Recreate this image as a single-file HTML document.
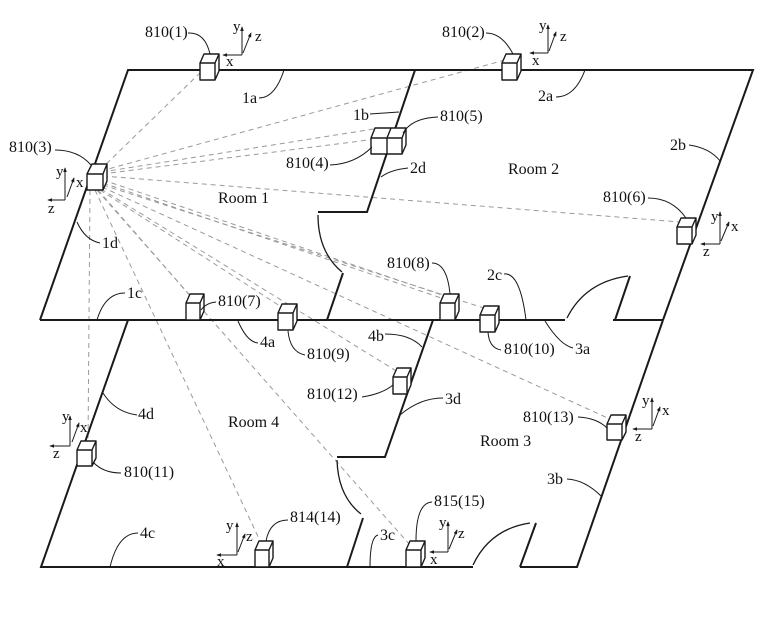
<!DOCTYPE html>
<html>
<head>
<meta charset="utf-8">
<style>
html,body{margin:0;padding:0;background:#fff;}
svg{display:block;}
text{font-family:"Liberation Serif",serif;fill:#111;}
</style>
</head>
<body>
<svg width="773" height="627" viewBox="0 0 773 627" xmlns="http://www.w3.org/2000/svg">
<rect width="773" height="627" fill="#fff"/>

<!-- dashed sight lines from 810(3) -->
<g stroke="#9a9a9a" stroke-width="1" stroke-dasharray="5 4" fill="none">
  <line x1="100" y1="170" x2="205" y2="68"/>
  <line x1="101" y1="171" x2="505" y2="60"/>
  <line x1="102" y1="172" x2="380" y2="128"/>
  <line x1="102" y1="174" x2="376" y2="139"/>
  <line x1="103" y1="176" x2="680" y2="222"/>
  <line x1="103" y1="180" x2="445" y2="296"/>
  <line x1="103" y1="183" x2="447" y2="300"/>
  <line x1="103" y1="185" x2="490" y2="310"/>
  <line x1="102" y1="187" x2="612" y2="420"/>
  <line x1="101" y1="189" x2="398" y2="372"/>
  <line x1="100" y1="190" x2="283" y2="308"/>
  <line x1="98" y1="190" x2="192" y2="298"/>
  <line x1="97" y1="190" x2="410" y2="545"/>
  <line x1="95" y1="190" x2="262" y2="545"/>
  <line x1="90" y1="190" x2="88" y2="445"/>
</g>

<!-- walls -->
<g stroke="#1a1a1a" stroke-width="2" fill="none" stroke-linejoin="miter">
  <path d="M40,320 L128,70 L753,70 L663,320"/>
  <path d="M40,320 L565,320"/>
  <path d="M613,320 L663,320"/>
  <path d="M128,320 L41,567 L473,567"/>
  <path d="M520,567 L577,567 L663,320"/>
  <!-- wall room1/room2 -->
  <path d="M415,70 L367,212 L318,212"/>
  <path d="M343,273 L327,320"/>
  <!-- room2 door -->
  <path d="M630,276 L615,320"/>
  <!-- wall room3/room4 -->
  <path d="M433,320 L385,457 L337,457"/>
  <path d="M363,518 L347,567"/>
  <!-- room3 door -->
  <path d="M536,523 L520,567"/>
</g>
<!-- door arcs -->
<g stroke="#1a1a1a" stroke-width="1.3" fill="none">
  <path d="M318,215 Q318,252 342,272"/>
  <path d="M567,318 Q585,282 628,276"/>
  <path d="M337,460 Q338,496 361,514"/>
  <path d="M473,565 Q490,529 530,523"/>
</g>

<!-- cubes -->
<g stroke="#1a1a1a" stroke-width="1.4" fill="#fff" stroke-linejoin="round">
  <!-- 810(1) -->
  <path d="M200,63 L204,54 L219,54 L215,63 Z M200,63 L215,63 L215,80 L200,80 Z M215,63 L219,54 L219,71 L215,80 Z"/>
  <!-- 810(2) -->
  <path d="M502,63 L506,54 L521,54 L517,63 Z M502,63 L517,63 L517,80 L502,80 Z M517,63 L521,54 L521,71 L517,80 Z"/>
  <!-- 810(3) -->
  <path d="M87,174 L92,164 L107,164 L103,174 Z M87,174 L103,174 L103,190 L87,190 Z M103,174 L107,164 L107,181 L103,190 Z"/>
  <!-- 810(4)/(5) -->
  <path d="M371,138 L375,128 L406,128 L402,138 Z M371,138 L402,138 L402,154 L371,154 Z M402,138 L406,128 L406,145 L402,154 Z M387,138 L387,154 M387,138 L391,128"/>
  <!-- 810(6) -->
  <path d="M677,227 L681,218 L696,218 L692,227 Z M677,227 L692,227 L692,244 L677,244 Z M692,227 L696,218 L696,235 L692,244 Z"/>
  <!-- 810(7) -->
  <path d="M186,303 L190,294 L204,294 L200,303 Z M186,303 L200,303 L200,320 L186,320 Z M200,303 L204,294 L204,311 L200,320 Z"/>
  <!-- 810(8) -->
  <path d="M440,303 L444,294 L459,294 L455,303 Z M440,303 L455,303 L455,320 L440,320 Z M455,303 L459,294 L459,311 L455,320 Z"/>
  <!-- 810(9) -->
  <path d="M278,313 L282,304 L297,304 L293,313 Z M278,313 L293,313 L293,330 L278,330 Z M293,313 L297,304 L297,321 L293,330 Z"/>
  <!-- 810(10) -->
  <path d="M480,315 L484,306 L499,306 L495,315 Z M480,315 L495,315 L495,332 L480,332 Z M495,315 L499,306 L499,323 L495,332 Z"/>
  <!-- 810(11) -->
  <path d="M77,450 L81,441 L96,441 L92,450 Z M77,450 L92,450 L92,466 L77,466 Z M92,450 L96,441 L96,458 L92,466 Z"/>
  <!-- 810(12) -->
  <path d="M393,377 L397,368 L411,368 L407,377 Z M393,377 L407,377 L407,394 L393,394 Z M407,377 L411,368 L411,385 L407,394 Z"/>
  <!-- 810(13) -->
  <path d="M607,424 L611,415 L626,415 L622,424 Z M607,424 L622,424 L622,440 L607,440 Z M622,424 L626,415 L626,432 L622,440 Z"/>
  <!-- 814(14) -->
  <path d="M255,550 L259,541 L273,541 L269,550 Z M255,550 L269,550 L269,567 L255,567 Z M269,550 L273,541 L273,558 L269,567 Z"/>
  <!-- 815(15) -->
  <path d="M406,550 L410,541 L425,541 L421,550 Z M406,550 L421,550 L421,567 L406,567 Z M421,550 L425,541 L425,558 L421,567 Z"/>
</g>

<!-- leader lines -->
<g stroke="#1a1a1a" stroke-width="1" fill="none">
  <path d="M188,33 Q205,32 210,54"/>
  <path d="M486,33 Q502,33 513,54"/>
  <path d="M55,150 Q78,150 91,165"/>
  <path d="M330,165 Q355,164 372,147"/>
  <path d="M438,117 Q412,118 403,133"/>
  <path d="M648,198 Q672,198 686,218"/>
  <path d="M216,302 Q206,303 201,310"/>
  <path d="M432,263 Q447,263 450,294"/>
  <path d="M305,355 Q290,352 288,331"/>
  <path d="M501,350 Q489,348 488,332"/>
  <path d="M121,473 Q103,473 93,462"/>
  <path d="M362,397 Q382,394 393,385"/>
  <path d="M578,417 Q597,418 607,428"/>
  <path d="M288,520 Q270,520 266,541"/>
  <path d="M432,502 Q416,503 416,541"/>
  <path d="M259,98 Q275,98 284,70"/>
  <path d="M370,114 L399,112"/>
  <path d="M125,293 Q105,293 97,320"/>
  <path d="M100,243 Q85,240 77,222"/>
  <path d="M556,97 Q575,97 585,70"/>
  <path d="M689,145 Q710,148 720,161"/>
  <path d="M504,274 Q520,272 526,320"/>
  <path d="M408,168 Q390,170 381,177"/>
  <path d="M573,348 Q560,345 545,321"/>
  <path d="M567,479 Q585,480 601,496"/>
  <path d="M378,535 Q370,537 370,567"/>
  <path d="M443,398 Q420,398 400,415"/>
  <path d="M258,343 Q247,342 238,321"/>
  <path d="M385,334 Q410,334 422,347"/>
  <path d="M138,533 Q118,533 110,567"/>
  <path d="M137,415 Q115,412 103,393"/>
</g>

<!-- axis triads -->
<defs>
  <marker id="ah" viewBox="0 0 6 6" refX="5" refY="3" markerWidth="5" markerHeight="5" orient="auto">
    <path d="M0,0.8 L6,3 L0,5.2 Z" fill="#1a1a1a"/>
  </marker>
</defs>
<g stroke="#1a1a1a" stroke-width="1" fill="none" marker-end="url(#ah)">
  <!-- 810(1) -->
  <line x1="242" y1="55" x2="242" y2="27"/>
  <line x1="242" y1="55" x2="223" y2="55"/>
  <line x1="243" y1="53" x2="251" y2="33"/>
  <!-- 810(2) -->
  <line x1="548" y1="53" x2="548" y2="25"/>
  <line x1="548" y1="53" x2="530" y2="53"/>
  <line x1="549" y1="51" x2="556" y2="32"/>
  <!-- 810(3) -->
  <line x1="65" y1="200" x2="65" y2="168"/>
  <line x1="65" y1="200" x2="48" y2="200"/>
  <line x1="67" y1="197" x2="74" y2="178"/>
  <!-- 810(6) -->
  <line x1="720" y1="244" x2="720" y2="212"/>
  <line x1="720" y1="244" x2="701" y2="244"/>
  <line x1="721" y1="241" x2="729" y2="222"/>
  <!-- 810(11) -->
  <line x1="70" y1="446" x2="70" y2="416"/>
  <line x1="70" y1="446" x2="50" y2="446"/>
  <line x1="72" y1="442" x2="79" y2="423"/>
  <!-- 810(13) -->
  <line x1="652" y1="429" x2="652" y2="398"/>
  <line x1="652" y1="429" x2="633" y2="429"/>
  <line x1="653" y1="426" x2="660" y2="407"/>
  <!-- 814(14) -->
  <line x1="237" y1="555" x2="237" y2="523"/>
  <line x1="237" y1="555" x2="217" y2="555"/>
  <line x1="238" y1="552" x2="245" y2="534"/>
  <!-- 815(15) -->
  <line x1="448" y1="552" x2="448" y2="522"/>
  <line x1="448" y1="552" x2="430" y2="552"/>
  <line x1="449" y1="549" x2="457" y2="530"/>
</g>
<g font-size="15">
  <text x="233" y="31">y</text><text x="255" y="41">z</text><text x="226" y="66">x</text>
  <text x="539" y="30">y</text><text x="560" y="41">z</text><text x="532" y="65">x</text>
  <text x="56" y="176">y</text><text x="76" y="187">x</text><text x="48" y="213">z</text>
  <text x="711" y="221">y</text><text x="731" y="231">x</text><text x="703" y="256">z</text>
  <text x="62" y="421">y</text><text x="80" y="432">x</text><text x="53" y="458">z</text>
  <text x="642" y="405">y</text><text x="662" y="415">x</text><text x="635" y="441">z</text>
  <text x="226" y="530">y</text><text x="246" y="541">z</text><text x="217" y="566">x</text>
  <text x="439" y="527">y</text><text x="458" y="538">z</text><text x="430" y="564">x</text>
</g>

<!-- labels -->
<g font-size="16">
  <text x="145" y="37">810(1)</text>
  <text x="442" y="37">810(2)</text>
  <text x="9" y="152">810(3)</text>
  <text x="286" y="168">810(4)</text>
  <text x="440" y="121">810(5)</text>
  <text x="603" y="202">810(6)</text>
  <text x="218" y="306">810(7)</text>
  <text x="387" y="268">810(8)</text>
  <text x="307" y="359">810(9)</text>
  <text x="504" y="354">810(10)</text>
  <text x="124" y="477">810(11)</text>
  <text x="307" y="399">810(12)</text>
  <text x="523" y="422">810(13)</text>
  <text x="290" y="522">814(14)</text>
  <text x="434" y="506">815(15)</text>

  <text x="242" y="103">1a</text>
  <text x="353" y="120">1b</text>
  <text x="127" y="298">1c</text>
  <text x="102" y="248">1d</text>
  <text x="538" y="101">2a</text>
  <text x="670" y="150">2b</text>
  <text x="487" y="280">2c</text>
  <text x="410" y="173">2d</text>
  <text x="575" y="354">3a</text>
  <text x="547" y="484">3b</text>
  <text x="380" y="540">3c</text>
  <text x="445" y="404">3d</text>
  <text x="260" y="347">4a</text>
  <text x="368" y="341">4b</text>
  <text x="140" y="538">4c</text>
  <text x="138" y="419">4d</text>

  <text x="218" y="203">Room 1</text>
  <text x="508" y="174">Room 2</text>
  <text x="480" y="446">Room 3</text>
  <text x="228" y="427">Room 4</text>
</g>
</svg>
</body>
</html>
